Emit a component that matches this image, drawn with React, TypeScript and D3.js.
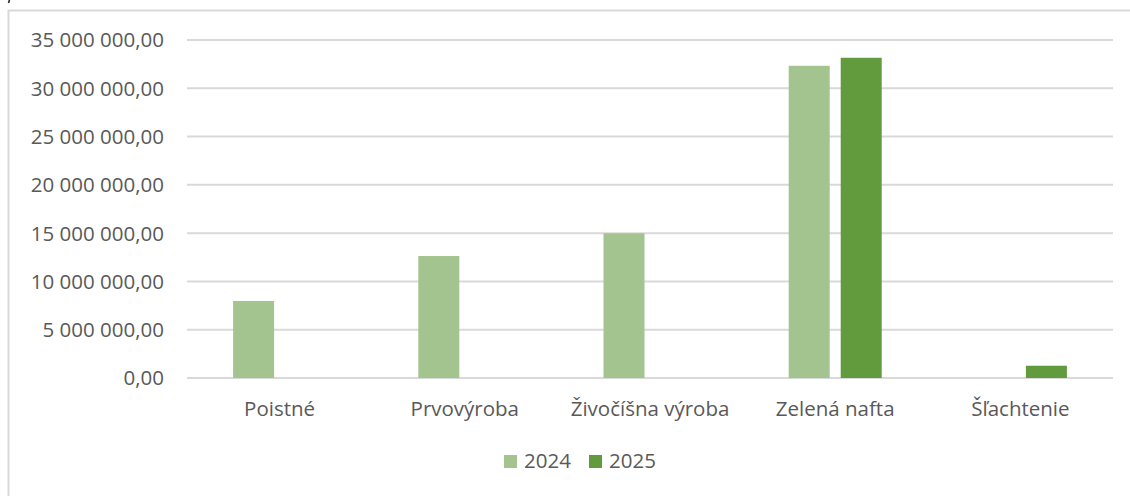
import React, { useEffect, useRef } from "react";
import * as d3 from "d3";

const categories = ["Poistné", "Prvovýroba", "Živočíšna výroba", "Zelená nafta", "Šľachtenie"];
const seriesNames = ["2024", "2025"];
const values2024 = [7980000, 12630000, 14980000, 32330000, 0];
const values2025 = [0, 0, 0, 33160000, 1270000];
const yTicks = [0, 5000000, 10000000, 15000000, 20000000, 25000000, 30000000, 35000000];
const colors = ["#A3C48F", "#629A3E"];

const W = 1130;
const H = 496;
const FONT = "'Open Sans', sans-serif";
const TEXT = "#595959";
const GRID = "#D9D9D9";

// 35 000 000,00 style
const fmt = (v: number) =>
  d3.format(",.2f")(v).replace(/,/g, " ").replace(".", ",");

const App = () => {
  const ref = useRef<SVGSVGElement>(null);

  useEffect(() => {
    const svg = d3.select(ref.current);
    svg.selectAll("*").remove();

    const margin = { top: 40, left: 187, right: 17, bottom: 118 };
    const plotBottom = H - margin.bottom;

    const x = d3
      .scaleBand()
      .domain(categories)
      .range([margin.left, W - margin.right])
      .padding(0);

    const xSub = d3
      .scaleBand()
      .domain(seriesNames)
      .range([0, x.bandwidth()])
      .paddingInner(0.2115)
      .paddingOuter(0.8865);

    const y = d3.scaleLinear().domain([0, 35000000]).range([plotBottom, margin.top]);

    // outer chart border (only top + left visible in the crop)
    svg
      .append("path")
      .attr("d", `M8.5,${H} L8.5,10.5 L${W},10.5`)
      .attr("fill", "none")
      .attr("stroke", GRID)
      .attr("stroke-width", 2);

    // clipped mark from text above the chart
    svg
      .append("path")
      .attr("d", "M9.5,0 L8.5,3")
      .attr("stroke", "#222")
      .attr("stroke-width", 1.6);

    // gridlines
    svg
      .append("g")
      .selectAll("line")
      .data(yTicks)
      .enter()
      .append("line")
      .attr("x1", margin.left)
      .attr("x2", W - margin.right)
      .attr("y1", (d) => y(d))
      .attr("y2", (d) => y(d))
      .attr("stroke", GRID)
      .attr("stroke-width", 2);

    // y labels
    svg
      .append("g")
      .selectAll("text")
      .data(yTicks)
      .enter()
      .append("text")
      .attr("x", 164)
      .attr("y", (d) => y(d))
      .attr("dy", "0.36em")
      .attr("text-anchor", "end")
      .attr("font-family", FONT)
      .attr("font-size", 20.5)
      .attr("fill", TEXT)
      .text((d) => fmt(d));

    // bars
    const series = [values2024, values2025];
    series.forEach((vals, si) => {
      svg
        .append("g")
        .selectAll("rect")
        .data(vals.map((v, i) => ({ cat: categories[i], v })))
        .enter()
        .filter((d) => d.v > 0)
        .append("rect")
        .attr("x", (d) => (x(d.cat) as number) + (xSub(seriesNames[si]) as number))
        .attr("width", xSub.bandwidth())
        .attr("y", (d) => y(d.v))
        .attr("height", (d) => y(0) - y(d.v))
        .attr("fill", colors[si]);
    });

    // category labels
    svg
      .append("g")
      .selectAll("text")
      .data(categories)
      .enter()
      .append("text")
      .attr("x", (d) => (x(d) as number) + x.bandwidth() / 2)
      .attr("y", 416)
      .attr("text-anchor", "middle")
      .attr("font-family", FONT)
      .attr("font-size", 20.5)
      .attr("fill", TEXT)
      .text((d) => d);

    // legend
    const legendX = [504, 589];
    const lg = svg.append("g");
    seriesNames.forEach((name, i) => {
      lg.append("rect")
        .attr("x", legendX[i])
        .attr("y", 455)
        .attr("width", 13)
        .attr("height", 13)
        .attr("fill", colors[i]);
      lg.append("text")
        .attr("x", legendX[i] + 20)
        .attr("y", 468)
        .attr("font-family", FONT)
        .attr("font-size", 20.5)
        .attr("fill", TEXT)
        .text(name);
    });
  }, []);

  return (
    <svg
      ref={ref}
      width={W}
      height={H}
      style={{ position: "absolute", left: 0, top: 0, background: "#fff" }}
    />
  );
};

export default App;
